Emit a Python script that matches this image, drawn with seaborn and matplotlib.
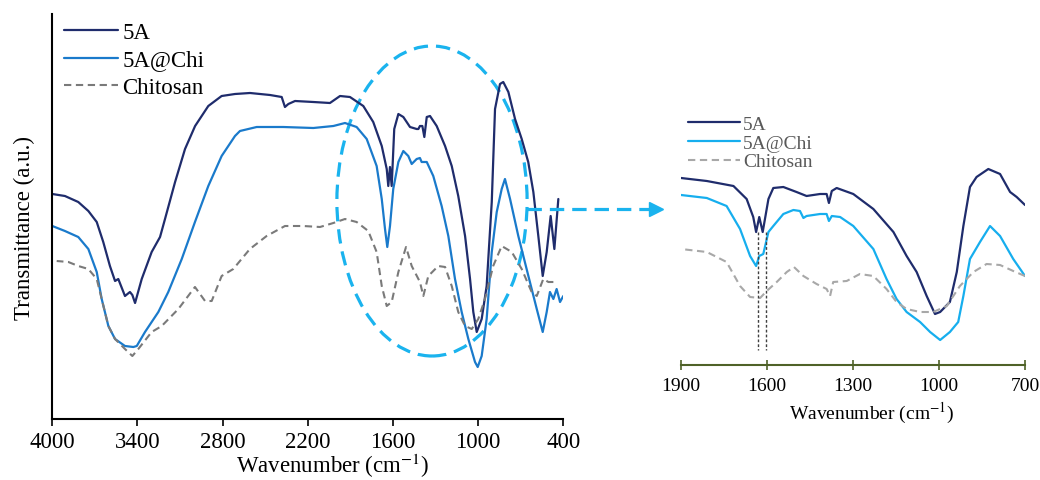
import numpy as np
import pandas as pd
import matplotlib
matplotlib.use("Agg")
import matplotlib.pyplot as plt
from matplotlib.patches import Ellipse
from matplotlib.lines import Line2D
import seaborn as sns

# ---------------- data (main spectrum) ----------------
wn_5a = [4000, 3911, 3817, 3746, 3687, 3641, 3594, 3558, 3535, 3488, 3453, 3436, 3417, 3370, 3300,
         3241, 3206, 3135, 3065, 2994, 2901, 2807, 2713, 2607, 2466, 2384, 2361, 2337, 2290, 2161,
         2044, 1973, 1903, 1809, 1739, 1679, 1644, 1633, 1621, 1609, 1591, 1562, 1527, 1480, 1433,
         1421, 1410, 1393, 1379, 1362, 1339, 1292, 1233, 1186, 1140, 1092, 1057, 1034, 1010, 975,
         940, 904, 881, 846, 823, 787, 740, 693, 647, 611, 576, 545, 517, 489, 463, 435]
t_5a = [225, 223, 217, 208, 197, 177, 153, 138, 140, 123, 127, 124, 116, 140, 167,
        182, 200, 237, 270, 293, 313, 323, 325, 326, 324, 322, 312, 315, 318, 317,
        316, 323, 322, 313, 297, 273, 250, 233, 252, 233, 290, 305, 302, 292, 290,
        290, 293, 293, 282, 302, 303, 293, 273, 253, 223, 183, 140, 107, 87, 100,
        133, 217, 310, 335, 337, 327, 300, 280, 257, 227, 183, 143, 167, 203, 170, 220]

wn_chi = [4000, 3911, 3817, 3746, 3687, 3652, 3605, 3558, 3488, 3429, 3405, 3347, 3253, 3183, 3088,
          2995, 2901, 2807, 2713, 2678, 2560, 2373, 2161, 2020, 1938, 1856, 1785, 1715, 1679, 1656,
          1640, 1621, 1598, 1562, 1527, 1492, 1468, 1433, 1410, 1398, 1362, 1316, 1257, 1210, 1163,
          1116, 1069, 1022, 1003, 975, 940, 904, 869, 834, 811, 775, 717, 646, 587, 545,
          517, 494, 470, 447, 423, 400]
t_chi = [193, 188, 182, 170, 147, 120, 93, 80, 73, 72, 73, 87, 107, 127, 160,
         197, 233, 263, 283, 288, 292, 292, 291, 293, 296, 292, 280, 253, 220, 190,
         172, 193, 230, 257, 268, 263, 255, 260, 261, 257, 257, 243, 213, 183, 140,
         107, 80, 57, 52, 63, 100, 167, 207, 230, 240, 220, 183, 143, 110, 87,
         107, 127, 120, 130, 117, 123]

wn_cs = [3969, 3887, 3817, 3746, 3687, 3652, 3605, 3558, 3488, 3436, 3394, 3300, 3229, 3112, 2995,
         2924, 2877, 2807, 2725, 2608, 2490, 2361, 2232, 2114, 2020, 1938, 1856, 1774, 1715, 1679,
         1644, 1609, 1562, 1508, 1468, 1410, 1386, 1351, 1281, 1233, 1186, 1140, 1092, 1045, 999,
         952, 894, 834, 763, 693, 623, 587, 541, 505, 470]
t_cs = [158, 157, 153, 150, 140, 120, 93, 80, 70, 63, 70, 87, 93, 110, 132,
        118, 118, 143, 150, 170, 183, 193, 193, 192, 196, 200, 197, 188, 167, 133,
        113, 117, 147, 172, 153, 137, 123, 143, 153, 152, 133, 107, 93, 90, 100,
        120, 153, 173, 167, 150, 127, 123, 140, 137, 137]

# ---------------- data (inset, 1900-700 cm-1) ----------------
iwn_5a = [1900, 1810, 1717, 1671, 1648, 1638, 1627, 1615, 1595, 1578, 1543, 1497, 1462, 1415, 1392,
          1384, 1374, 1357, 1299, 1229, 1159, 1113, 1078, 1043, 1014, 996, 962, 938, 915, 892,
          869, 828, 787, 752, 729, 700]
it_5a = [187, 184, 179, 166, 148, 133, 148, 133, 166, 177, 178, 173, 169, 171, 171,
         162, 174, 177, 171, 156, 133, 109, 93, 69, 51, 53, 63, 93, 139, 178,
         188, 196, 191, 173, 168, 160]

iwn_chi = [1900, 1810, 1741, 1694, 1659, 1638, 1627, 1613, 1595, 1578, 1543, 1508, 1485, 1473, 1462,
           1415, 1392, 1384, 1374, 1345, 1299, 1229, 1183, 1148, 1113, 1066, 1031, 996, 962, 933,
           915, 892, 857, 822, 787, 741, 700]
it_chi = [170, 167, 159, 136, 109, 99, 109, 111, 133, 139, 151, 155, 154, 147, 149,
          151, 151, 144, 149, 148, 139, 116, 86, 66, 53, 43, 33, 25, 33, 43,
          69, 106, 123, 139, 129, 106, 89]

iwn_cs = [1900, 1810, 1741, 1694, 1659, 1624, 1601, 1566, 1531, 1506, 1473, 1427, 1392, 1380, 1369,
          1322, 1276, 1229, 1183, 1148, 1113, 1066, 1020, 973, 927, 880, 834, 787, 741, 700]
it_cs = [116, 113, 103, 79, 68, 67, 74, 83, 93, 98, 89, 81, 76, 69, 83,
         84, 91, 89, 76, 63, 56, 53, 53, 59, 79, 93, 101, 100, 94, 89]

marker_wn = [1630, 1603]          # dotted guide lines in inset
marker_span = [133, 15]

labels = ["5A", "5A@Chi", "Chitosan"]
main_ticks = [4000, 3400, 2800, 2200, 1600, 1000, 400]
inset_ticks = [1900, 1600, 1300, 1000, 700]

# ---------------- styling ----------------
sns.set_theme(style="white")
plt.rcParams["font.family"] = ["Liberation Serif", "DejaVu Serif"]
plt.rcParams["mathtext.fontset"] = "stix"

NAVY = "#1f2c6c"
BLUE_M = "#1a7acb"
BLUE_I = "#16aeee"
GRAY_M = "#7a7a7a"
GRAY_I = "#a8a8a8"
CYAN = "#1ab3ee"
GREEN = "#4f6228"

W, H = 1040, 481
fig = plt.figure(figsize=(W / 100, H / 100), dpi=100)

# ---------------- main axes ----------------
ax = fig.add_axes([52.3 / W, (H - 420) / H, 511 / W, 405 / H])
df5a = pd.DataFrame({"wn": wn_5a, "t": t_5a})
dfchi = pd.DataFrame({"wn": wn_chi, "t": t_chi})
dfcs = pd.DataFrame({"wn": wn_cs, "t": t_cs})
sns.lineplot(data=df5a, x="wn", y="t", ax=ax, color=NAVY, lw=1.6, label=labels[0])
sns.lineplot(data=dfchi, x="wn", y="t", ax=ax, color=BLUE_M, lw=1.6, label=labels[1])
sns.lineplot(data=dfcs, x="wn", y="t", ax=ax, color=GRAY_M, lw=1.5,
             linestyle=(0, (3.5, 2.2)), label=labels[2])
ax.set_xlim(4000, 400)
ax.set_ylim(0, 405)
ax.set_xticks(main_ticks)
ax.set_xticklabels([str(t) for t in main_ticks])
ax.set_yticks([])
for s in ["top", "right"]:
    ax.spines[s].set_visible(False)
for s in ["left", "bottom"]:
    ax.spines[s].set_color("black")
    ax.spines[s].set_linewidth(1.5)
ax.tick_params(axis="x", direction="out", length=5, width=1.2, color="black",
               labelsize=16.5, labelcolor="black", pad=4, bottom=True)
ax.set_xlabel("Wavenumber (cm$^{-1}$)", fontsize=16.5, color="black", va="center")
ax.xaxis.set_label_coords(0.548, -0.113)
ax.set_ylabel("Transmittance (a.u.)", fontsize=16.5, color="black", va="center")
ax.yaxis.set_label_coords(-0.054, 0.474)
ax.patch.set_alpha(0)

# highlighted region ellipse
ell = Ellipse((1325, 218), width=1340, height=310, fill=False, edgecolor=CYAN,
              lw=2.3, linestyle=(0, (4.5, 2.5)))
ax.add_patch(ell)

leg = ax.legend(loc="center left", bbox_to_anchor=(64 / W, 1 - 61 / H),
                bbox_transform=fig.transFigure, frameon=False, fontsize=16.5,
                handlelength=2.36, handletextpad=0.18, labelspacing=0.3,
                borderpad=0, borderaxespad=0)
for t in leg.get_texts():
    t.set_color("black")

# ---------------- inset axes ----------------
ax2 = fig.add_axes([681 / W, (H - 366) / H, 344 / W, 250 / H])
idf5a = pd.DataFrame({"wn": iwn_5a, "t": it_5a})
idfchi = pd.DataFrame({"wn": iwn_chi, "t": it_chi})
idfcs = pd.DataFrame({"wn": iwn_cs, "t": it_cs})
sns.lineplot(data=idf5a, x="wn", y="t", ax=ax2, color=NAVY, lw=1.6, label=labels[0])
sns.lineplot(data=idfchi, x="wn", y="t", ax=ax2, color=BLUE_I, lw=1.6, label=labels[1])
sns.lineplot(data=idfcs, x="wn", y="t", ax=ax2, color=GRAY_I, lw=1.5,
             linestyle=(0, (3.5, 2.2)), label=labels[2])
for w in marker_wn:
    ax2.plot([w, w], marker_span, color="#404040", lw=1.0, linestyle=(0, (2, 1.5)))
ax2.set_xlim(1900, 700)
ax2.set_ylim(0, 250)
ax2.set_xticks(inset_ticks)
ax2.set_xticklabels([str(t) for t in inset_ticks])
ax2.set_yticks([])
for s in ["top", "right", "left"]:
    ax2.spines[s].set_visible(False)
ax2.spines["bottom"].set_color(GREEN)
ax2.spines["bottom"].set_linewidth(1.5)
ax2.tick_params(axis="x", direction="inout", length=7, width=1.2, color=GREEN,
                labelsize=14, labelcolor="black", pad=5, bottom=True)
ax2.set_xlabel("Wavenumber (cm$^{-1}$)", fontsize=14, color="black", va="center")
ax2.xaxis.set_label_coords(0.555, -0.19)
ax2.set_ylabel("")
ax2.patch.set_alpha(0)
leg2 = ax2.legend(loc="center left", bbox_to_anchor=(688 / W, 1 - 144 / H),
                  bbox_transform=fig.transFigure, frameon=False, fontsize=14,
                  handlelength=2.68, handletextpad=0.15, labelspacing=0.05,
                  borderpad=0, borderaxespad=0)
for t in leg2.get_texts():
    t.set_color("#595959")

# ---------------- connecting dashed arrow ----------------
fig.add_artist(Line2D([527 / W, 650 / W], [1 - 210 / H, 1 - 210 / H],
                      transform=fig.transFigure, color=CYAN, lw=2.3,
                      linestyle=(0, (4.5, 2.5))))
fig.add_artist(Line2D([656 / W], [1 - 210 / H], transform=fig.transFigure,
                      color=CYAN, marker=">", markersize=10, lw=0))

fig.savefig("out.png", dpi=100)
